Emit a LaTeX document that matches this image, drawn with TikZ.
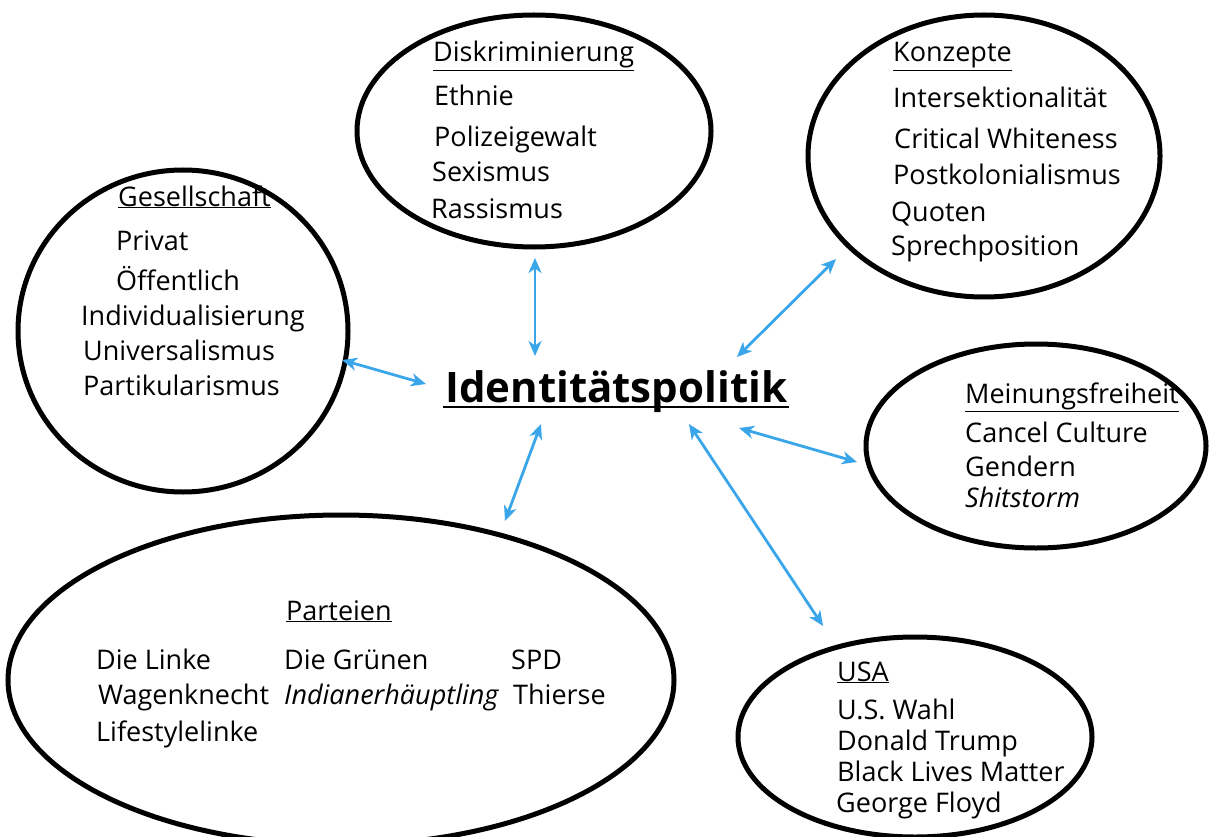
\documentclass[tikz,border=0pt]{standalone}
\usepackage{fontspec}
\setmainfont{Open Sans}
\usetikzlibrary{shapes.geometric,arrows.meta}
\definecolor{arrowblue}{RGB}{58,166,233}
\tikzset{
  bubble/.style={draw=black, line width=5pt, ellipse, inner sep=0pt},
  item/.style={anchor=base west, inner sep=0pt, font=\fontsize{27}{32}\selectfont},
  link/.style={draw=arrowblue, line width=2.8pt, {Stealth[length=15pt,width=13pt,inset=4.5pt]}-{Stealth[length=15pt,width=13pt,inset=4.5pt]}}
}
\begin{document}
\begin{tikzpicture}[x=1pt,y=-1pt]
\useasboundingbox (0,0) rectangle (1209,837);
\fill[white] (0,0) rectangle (1209,837);
% bubbles
\node[bubble, minimum width=330pt, minimum height=322pt] (ges) at (183,331) {};
\node[bubble, minimum width=354pt, minimum height=232pt] (dis) at (534,131) {};
\node[bubble, minimum width=352pt, minimum height=282pt] (kon) at (984,156) {};
\node[bubble, minimum width=340pt, minimum height=204pt] (mei) at (1036,446) {};
\node[bubble, minimum width=666pt, minimum height=330pt] (par) at (341,680) {};
\node[bubble, minimum width=354pt, minimum height=200pt] (usa) at (915,737) {};
% centre
\node[anchor=base west, inner sep=0pt, font=\fontsize{42}{48}\selectfont\bfseries] (idp) at (445,402) {Identitätspolitik};
\draw[line width=2.6pt] ([xshift=-2pt,yshift=-5pt]idp.base west) -- ([xshift=2pt,yshift=-5pt]idp.base east);
% Diskriminierung
\node[item] (dist) at (433,62) {\underline{Diskriminierung}};
\node[item] (d1) at (434,106) {Ethnie};
\node[item] (d2) at (434,147) {Polizeigewalt};
\node[item] (d3) at (432,182) {Sexismus};
\node[item] (d4) at (431,218) {Rassismus};
% Konzepte
\node[item] (kont) at (893,62) {\underline{Konzepte}};
\node[item] (k1) at (893,108) {Intersektionalität};
\node[item] (k2) at (894,149) {Critical Whiteness};
\node[item] (k3) at (893,185) {Postkolonialismus};
\node[item] (k4) at (891,221) {Quoten};
\node[item] (k5) at (891,255) {Sprechposition};
% Gesellschaft
\node[item] (gest) at (118,206) {\underline{Gesellschaft}};
\node[item] (g1) at (116,250) {Privat};
\node[item] (g2) at (116,290) {Öffentlich};
\node[item] (g3) at (81,325) {Individualisierung};
\node[item] (g4) at (83,360) {Universalismus};
\node[item] (g5) at (83,395) {Partikularismus};
% Meinungsfreiheit
\node[item] (meit) at (965,403) {\underline{Meinungsfreiheit}};
\node[item] (m1) at (965,442) {Cancel Culture};
\node[item] (m2) at (965,476) {Gendern};
\node[item] (m3) at (965,507) {\itshape Shitstorm};
% Parteien
\node[item] (part) at (286,620) {\underline{Parteien}};
\node[item] (p1) at (96,669) {Die Linke};
\node[item] (p2) at (98,704) {Wagenknecht};
\node[item] (p3) at (96,741) {Lifestylelinke};
\node[item] (p4) at (284,669) {Die Grünen};
\node[item] (p5) at (284,704) {\itshape Indianerhäuptling};
\node[item] (p6) at (511,669) {SPD};
\node[item] (p7) at (513,704) {Thierse};
% USA
\node[item] (usat) at (837,681) {\underline{USA}};
\node[item] (u1) at (837,719) {U.S. Wahl};
\node[item] (u2) at (837,750) {Donald Trump};
\node[item] (u3) at (837,781) {Black Lives Matter};
\node[item] (u4) at (836,812) {George Floyd};
% arrow end points
\coordinate (aD1) at (535,258);
\coordinate (aD2) at (535,356);
\coordinate (aK1) at (836,259);
\coordinate (aK2) at (737,357);
\coordinate (aG1) at (342,360);
\coordinate (aG2) at (426,384);
\coordinate (aM1) at (739,428);
\coordinate (aM2) at (857,462);
\coordinate (aP1) at (541,424);
\coordinate (aP2) at (505,521);
\coordinate (aU1) at (689,424);
\coordinate (aU2) at (823,626);
\draw[link] (aD1) -- (aD2);
\draw[link] (aK1) -- (aK2);
\draw[link] (aG1) -- (aG2);
\draw[link] (aM1) -- (aM2);
\draw[link] (aP1) -- (aP2);
\draw[link] (aU1) -- (aU2);
\end{tikzpicture}
\end{document}
